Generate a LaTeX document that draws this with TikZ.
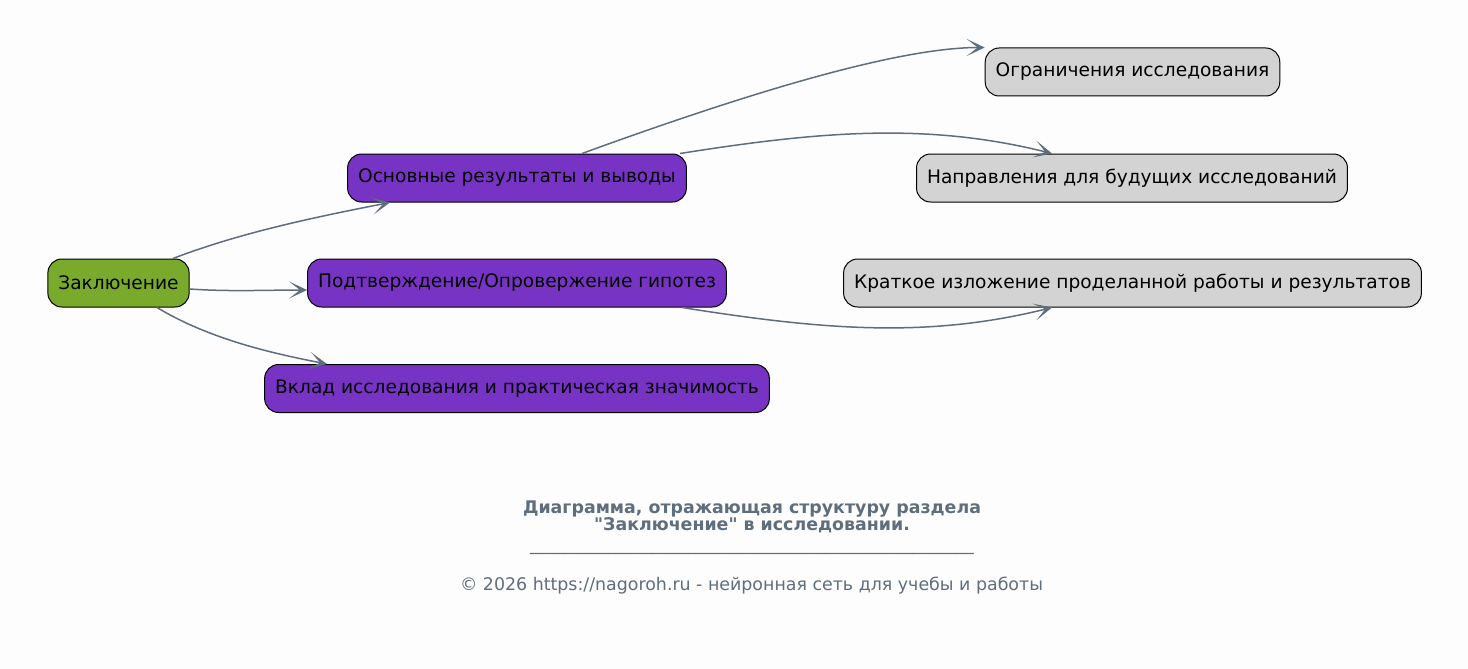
\documentclass[tikz,border=0pt]{standalone}
\usepackage{fontspec}
\setmainfont{DejaVu Sans}
\usetikzlibrary{arrows.meta}
\definecolor{bgcol}{HTML}{FDFDFD}
\definecolor{rootcol}{HTML}{7AAA2C}
\definecolor{midcol}{HTML}{7734C4}
\definecolor{leafcol}{HTML}{D3D3D3}
\definecolor{edgecol}{HTML}{5F6E7D}
\tikzset{
  box/.style={draw=black, line width=1pt, rounded corners=14pt, minimum height=48pt,
    inner xsep=10.5pt, font=\fontsize{18.6}{20}\selectfont, text=black},
  root/.style={box, fill=rootcol},
  topic/.style={box, fill=midcol},
  leaf/.style={box, fill=leafcol},
  edge/.style={draw=edgecol, line width=1.5pt,
    -{Stealth[length=18pt, width=17pt, inset=11pt]}},
  caption/.style={text=edgecol, align=center}
}
\begin{document}
\begin{tikzpicture}[x=1pt, y=1pt]
      \fill[bgcol] (0,0) rectangle (1468,-669);
      \useasboundingbox (0,0) rectangle (1468,-669);
      \draw
        (118.5,-283) node[root] (zakl){Заключение}
        (517,-178) node[topic] (osn){Основные результаты и выводы}
        (517,-283) node[topic] (podt){Подтверждение/Опровержение гипотез}
        (517,-388.5) node[topic] (vklad){Вклад исследования и практическая значимость}
        (1132.5,-72) node[leaf] (ogr){Ограничения исследования}
        (1132,-178) node[leaf] (napr){Направления для будущих исследований}
        (1132.5,-283) node[leaf] (krat){Краткое изложение проделанной работы и результатов};
      \begin{scope}[edge]
        \draw ([xshift=54.5pt]zakl.north) .. controls +(21:70) and +(191:80) .. ([xshift=-127pt]osn.south);
        \draw ([yshift=-6pt]zakl.east) .. controls +(-4:40) and +(180:40) .. ([yshift=-7pt]podt.west);
        \draw ([xshift=38.5pt]zakl.south) .. controls +(-31:60) and +(169:60) .. ([xshift=-190pt]vklad.north);
        \draw ([xshift=65pt]osn.north) .. controls +(20:200) and +(180:80) .. (ogr.north west);
        \draw ([xshift=163pt]osn.north) .. controls +(9:140) and +(166:130) .. ([xshift=-80pt]napr.north);
        \draw ([xshift=165pt]podt.south) .. controls +(-9:140) and +(194:130) .. ([xshift=-80.5pt]krat.south);
      \end{scope}
      \node[caption, font=\bfseries\fontsize{17.4}{17}\selectfont] (title) at (752,-516.5)
        {Диаграмма, отражающая структуру раздела\\\textquotedbl Заключение\textquotedbl{} в исследовании.};
      \node[caption, anchor=base, font=\fontsize{17.4}{17}\selectfont] (rule) at (752,-550)
        {\_\_\_\_\_\_\_\_\_\_\_\_\_\_\_\_\_\_\_\_\_\_\_\_\_\_\_\_\_\_\_\_\_\_\_\_\_\_\_\_\_\_\_\_\_\_\_\_\_\_\_};
      \node[caption, anchor=base, font=\fontsize{17.4}{17}\selectfont] (copy) at (751.5,-590)
        {© 2026 https://nagoroh.ru - нейронная сеть для учебы и работы};
    \end{tikzpicture}
\end{document}
